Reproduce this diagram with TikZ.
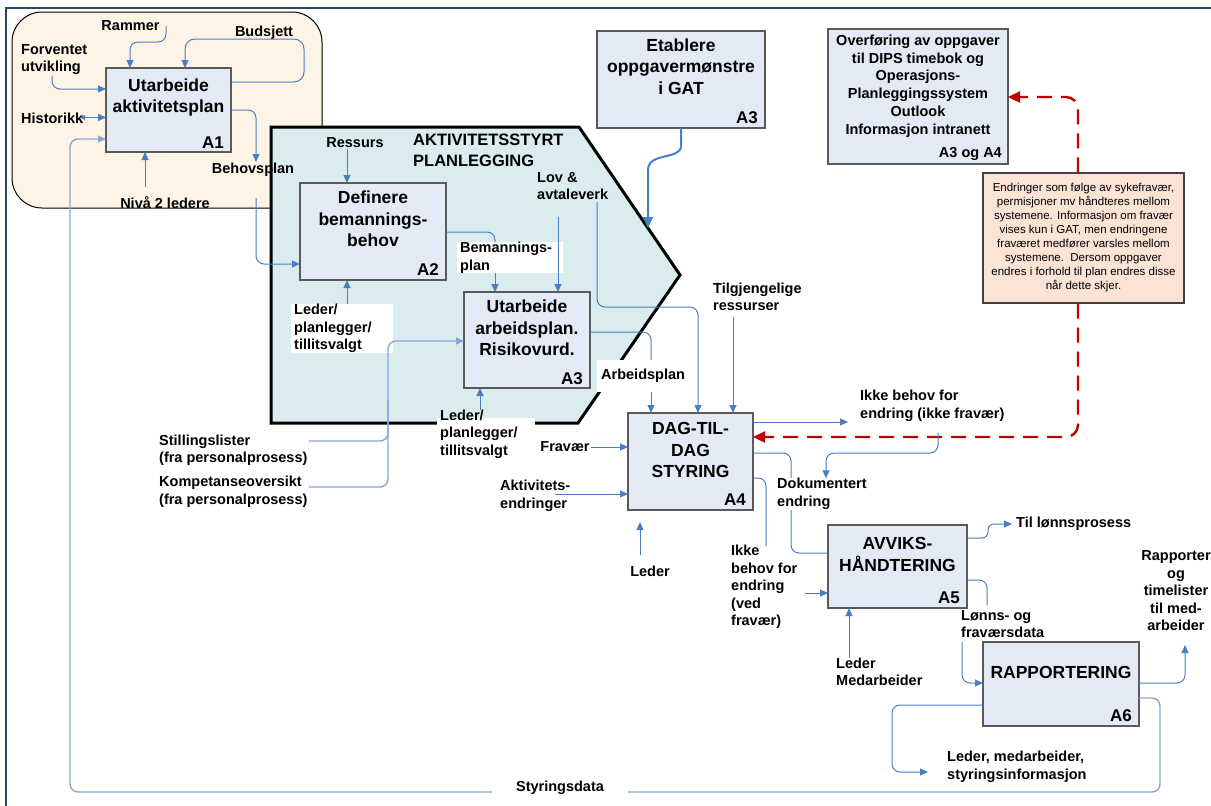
\documentclass[tikz,border=0pt]{standalone}
\usepackage{fontspec}
\setmainfont{Liberation Sans}
\usetikzlibrary{arrows.meta}
\definecolor{boxfill}{HTML}{E4EAF5}
\definecolor{boxline}{HTML}{5A5A5A}
\definecolor{beige}{HTML}{FDF4E5}
\definecolor{tealbg}{HTML}{DAECEE}
\definecolor{conn}{HTML}{4A7EC4}
\definecolor{connlt}{HTML}{86A6D8}
\definecolor{notefill}{HTML}{FBE3D6}
\definecolor{notebd}{HTML}{404040}
\definecolor{redd}{HTML}{C00000}
\definecolor{framec}{HTML}{2E4468}
\newcommand{\lblf}{\fontsize{14.5}{17.5}\selectfont\bfseries}
\newcommand{\ttlf}{\fontsize{17.5}{21.5}\selectfont\bfseries}
\newcommand{\grpf}{\fontsize{16.5}{21}\selectfont\bfseries}
\newcommand{\alabf}{\fontsize{17}{20}\selectfont\bfseries}
\newcommand{\notef}{\fontsize{11.5}{14}\selectfont}
\newcommand{\ovf}{\fontsize{14.5}{17.7}\selectfont\bfseries}
\begin{document}
\begin{tikzpicture}[x=1pt, y=-1pt,
  pbox/.style={draw=boxline, fill=boxfill, line width=1.2pt, inner sep=0pt, outer sep=0pt},
  ttl/.style={font=\ttlf, align=center, inner sep=0pt},
  alab/.style={font=\alabf, inner sep=0pt},
  lbl/.style={font=\lblf, align=left, inner sep=1pt},
  arr/.style={draw=conn, line width=1pt, -{Triangle[length=8pt,width=7pt]}},
  arrlt/.style={draw=connlt, line width=1.4pt, -{Triangle[length=8pt,width=7pt]}},
  ln/.style={draw=conn, line width=1pt},
  lnlt/.style={draw=connlt, line width=1.4pt},
  redarr/.style={draw=redd, line width=2.4pt, dash pattern=on 15pt off 9pt, -{Triangle[length=12pt,width=11pt]}},
  rc/.style={rounded corners=8pt}]
\useasboundingbox (0,0) rectangle (1211,806);
\fill[white] (0,0) rectangle (1211,806);
% frame
\draw[framec, line width=2pt] (6,806) -- (6,8) -- (1211,8);
% A1 region
\draw[fill=beige, line width=1pt, rounded corners=30pt] (12,12) rectangle (322,208);
% group hexagon
\draw[fill=tealbg, line width=3pt, line join=miter] (271,127) -- (579,127) -- (680,275) -- (578,423) -- (271,423) -- cycle;
\fill[white] (437,418) rectangle (535,460);

% process boxes
\node[pbox, minimum width=125pt, minimum height=84pt] (A1) at (168.5,110) {};
\node[pbox, minimum width=146pt, minimum height=97pt] (A2) at (373,231.5) {};
\node[pbox, minimum width=126pt, minimum height=96pt] (A3m) at (527,340) {};
\node[pbox, minimum width=168pt, minimum height=97pt] (A3t) at (681,79.5) {};
\node[pbox, minimum width=180pt, minimum height=135pt] (A34) at (918,96.5) {};
\node[pbox, minimum width=125pt, minimum height=97pt] (A4) at (690.5,461.5) {};
\node[pbox, minimum width=139pt, minimum height=83pt] (A5) at (897.5,566.5) {};
\node[pbox, minimum width=156pt, minimum height=84pt] (A6) at (1061,684) {};
\node[draw=notebd, fill=notefill, line width=1.2pt, minimum width=201pt, minimum height=130pt,
      align=center, font=\notef, inner sep=0pt] (Note) at (1083.5,238)
  {Endringer som følge av sykefravær,\\permisjoner mv håndteres mellom\\systemene. Informasjon om fravær\\vises kun i GAT, men endringene\\fraværet medfører varsles mellom\\systemene.\ \ Dersom oppgaver\\endres i forhold til plan endres disse\\når dette skjer.};

% titles
\node[ttl] (A1t) at (168.5,97.5) {Utarbeide\\aktivitetsplan};
\node[ttl] (A2t) at (373,219) {Definere\\bemannings-\\behov};
\node[ttl] (A3mt) at (527,328) {Utarbeide\\arbeidsplan.\\Risikovurd.};
\node[ttl] (A3tt) at (681,66.5) {Etablere\\oppgavermønstre\\i GAT};
\node[font=\ovf, align=center, inner sep=0pt] (A34t) at (918,86) {Overføring av oppgaver\\til DIPS timebok og\\Operasjons-\\Planleggingssystem\\Outlook\\Informasjon intranett};
\node[ttl] (A4t) at (690.5,450) {DAG-TIL-\\DAG\\STYRING};
\node[ttl] (A5t) at (897.5,554.5) {AVVIKS-\\HÅNDTERING};
\node[ttl] (A6t) at (1061,672) {RAPPORTERING};
\node[alab, anchor=base east] at ([xshift=-7pt,yshift=4pt]A1.south east) {A1};
\node[alab, anchor=base east] at ([xshift=-7pt,yshift=5pt]A2.south east) {A2};
\node[alab, anchor=base east] at ([xshift=-7pt,yshift=4pt]A3m.south east) {A3};
\node[alab, anchor=base east] at ([xshift=-7pt,yshift=5pt]A3t.south east) {A3};
\node[font=\ovf, inner sep=0pt, anchor=base east] at ([xshift=-6pt,yshift=7pt]A34.south east) {A3 og A4};
\node[alab, anchor=base east] at ([xshift=-7pt,yshift=5pt]A4.south east) {A4};
\node[alab, anchor=base east] at ([xshift=-7pt,yshift=5pt]A5.south east) {A5};
\node[alab, anchor=base east] at ([xshift=-7pt,yshift=5pt]A6.south east) {A6};

% labels
\node[lbl] (Rammer) at (130.5,26) {Rammer};
\node[lbl] (Budsjett) at (264,33) {Budsjett};
\node[lbl, anchor=west] (Fv) at (20,59.5) {Forventet\\utvikling};
\node[lbl, anchor=west] (Hist) at (20,118) {Historikk};
\node[lbl] (Niva) at (165,203) {Nivå 2 ledere};
\node[lbl] (Behov) at (253,170) {Behovsplan};
\node[lbl] (Ressurs) at (355,143) {Ressurs};
\node[font=\grpf, align=left, inner sep=0pt, anchor=west] (Grp) at (413,150.5) {AKTIVITETSSTYRT\\PLANLEGGING};
\node[lbl, anchor=west] (Lov) at (536,186) {Lov \&\\avtaleverk};
\node[lbl, fill=white, anchor=north west, text width=100pt, inner xsep=3pt, inner ysep=0pt, minimum height=31pt] (Bem) at (457,242) {Bemannings-\\plan};
\node[lbl, fill=white, anchor=north west, text width=96pt, inner xsep=3pt, inner ysep=0pt, minimum height=49pt] (LpA) at (291,304) {Leder/\\planlegger/\\tillitsvalgt};
\node[lbl, anchor=west] (LpB) at (439,434) {Leder/\\planlegger/\\tillitsvalgt};
\node[lbl, fill=white, anchor=west, minimum height=32pt, inner xsep=4pt] (Arb) at (597,376) {Arbeidsplan};
\node[lbl, anchor=west] (Still) at (158,450) {Stillingslister\\(fra personalprosess)};
\node[lbl, anchor=west] (Komp) at (158,491.5) {Kompetanseoversikt\\(fra personalprosess)};
\node[lbl] (Frav) at (565,447) {Fravær};
\node[lbl, anchor=west] (Akt) at (499,496) {Aktivitets-\\endringer};
\node[lbl] (LedA4) at (650,571) {Leder};
\node[lbl, anchor=west] (Tilg) at (712,297) {Tilgjengelige\\ressurser};
\node[lbl, anchor=west] (Ikke1) at (859,406) {Ikke behov for\\endring (ikke fravær)};
\node[lbl, anchor=west] (Ikke2) at (730,587) {Ikke\\behov for\\endring\\(ved\\fravær)};
\node[lbl, anchor=west] (Til) at (1015,524) {Til lønnsprosess};
\node[lbl, anchor=west] (LedMed) at (835,672) {Leder\\Medarbeider};
\node[lbl, anchor=west] (Lonn) at (960,624) {Lønns- og\\fraværsdata};
\node[lbl, align=center] (Rapp) at (1176,591) {Rapporter\\og\\timelister\\til med-\\arbeider};
\node[lbl, anchor=west] (LMS) at (946,767) {Leder, medarbeider,\\styringsinformasjon};

% connectors A1
\draw[arr, rc] (Rammer.east -| 166,0) -- (166,42) -- (130,42) -- (A1.north -| 130,0);
\draw[arr, rounded corners=10pt] (A1.east |- 0,82) -- (304,82) -- (304,39) -- (185,39) -- (A1.north -| 185,0);
\draw[arr, rc] (Fv.south -| 52,0) -- (52,89) -- (A1.west |- 0,89);
\draw[arr, {Triangle[length=5pt,width=5pt]}-{Triangle[length=8pt,width=7pt]}] (80,117.5) -- (A1.west |- 0,117.5);
\draw[arr] (145,187) -- (A1.south -| 145,0);
\draw[arr, rc] (A1.east) -- (256,110) -- (Behov.north -| 256,0);
\draw[arr, rc] (256,198) -- (256,264) -- (A2.west |- 0,264);
% group inner
\draw[arr] (Ressurs.south -| 347,0) -- (A2.north -| 347,0);
\draw[arr] (LpA.north -| 347,0) -- (A2.south -| 347,0);
\draw[ln, rc] (A2.east |- 0,232) -- (495,232) -- (Bem.north -| 495,0);
\draw[arr] (Bem.south -| 495,0) -- (A3m.north -| 495,0);
\draw[arr] (558,217) -- (A3m.north -| 558,0);
\draw[arr, rc] (597,202) -- (597,307) -- (698,307) -- (A4.north -| 698,0);
\draw[ln, rc] (A3m.east |- 0,332) -- (651,332) -- (Arb.north -| 651,0);
\draw[arr] (Arb.south -| 651,0) -- (A4.north -| 651,0);
\draw[arr] (480,410) -- (A3m.south -| 480,0);
\draw[lnlt, rc] (Still.north east |- 0,441) -- (388,441) -- (388,400);
\draw[arrlt, rc] (Komp.north east |- 0,487) -- (388,487) -- (388,341) -- (A3m.west |- 0,341);
% A3 top
\draw[draw=conn, line width=2pt, -{Triangle[length=11pt,width=10pt]}] (A3t.south) -- (681,146) .. controls (681,160) and (648,152) .. (648,170) -- (648,228);
% A4
\draw[arr] (Frav.east) -- (A4.west |- 0,447);
\draw[arr] (555,494) -- (A4.west |- 0,494);
\draw[arr] (640,555) -- (640,522);
\draw[arr] (733,317) -- (A4.north -| 733,0);
\draw[arr] (A4.east |- 0,422) -- (848,422);
\draw[redarr, rounded corners=12pt] (Note.north -| 1078,0) -- (1078,97) -- (A34.east |- 0,97);
\draw[redarr, rounded corners=12pt] (Note.south -| 1078,0) -- (1078,437) -- (A4.east |- 0,437);
\draw[ln, rc] (A4.east |- 0,453) -- (791,453) -- (791,553) -- (A5.west |- 0,553);
\draw[ln, rc] (A4.east |- 0,478) -- (766,478) -- (766,546);
\draw[arr] (805,593) -- (A5.west |- 0,593);
% A5
\draw[arr, rounded corners=6pt] (A5.east |- 0,538) -- (988,538) -- (988,524) -- (1012,524);
\draw[arr] (849,658) -- (A5.south -| 849,0);
\draw[ln, rc] (A5.east |- 0,580) -- (987,580) -- (987,605);
\draw[arr, rc] (962,642) -- (962,683) -- (A6.west |- 0,683);
% A6
\draw[arr, rc] (A6.east |- 0,683) -- (1185,683) -- (1185,645);
\draw[arr, rc] (A6.west |- 0,705) -- (892,705) -- (892,772) -- (928,772);
\draw[arrlt, rc] (A6.east |- 0,698) -- (1160,698) -- (1160,792) -- (70,792) -- (70,139) -- (A1.west |- 0,139);
% labels on top of lines
\node[lbl, fill=white, anchor=west, inner ysep=0pt] (Dok) at (776,494) {Dokumentert\\endring};
\node[lbl, fill=white, inner xsep=24pt, inner ysep=2pt] (Styr) at (560,788) {Styringsdata};
\draw[arr, rc] (938,433) -- (938,453) -- (826,453) -- (Dok.north -| 826,0);
\end{tikzpicture}
\end{document}
